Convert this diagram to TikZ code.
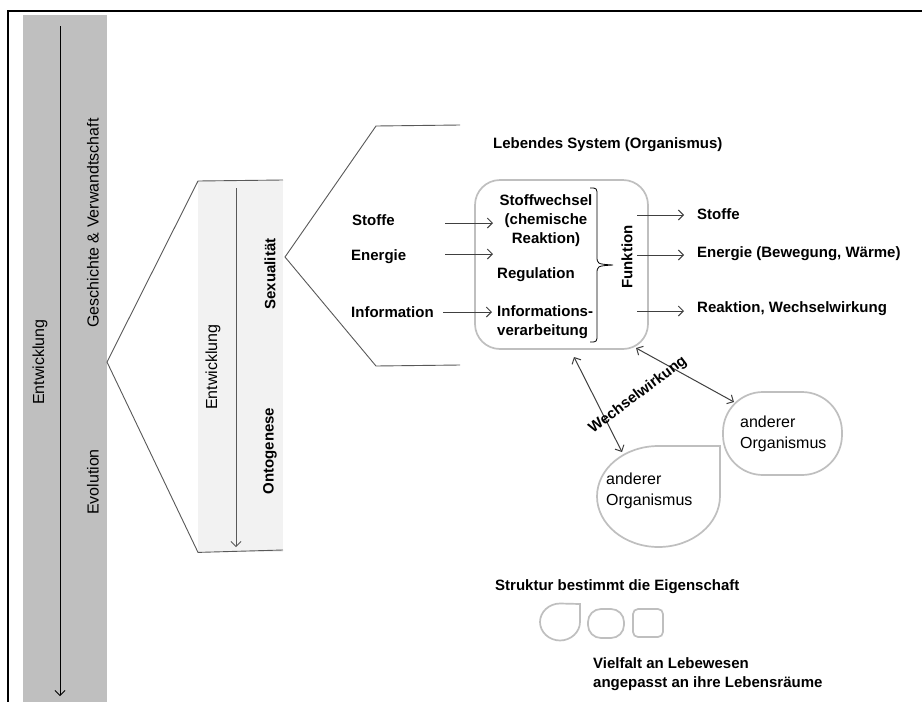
\documentclass[tikz,border=0pt]{standalone}
\usepackage{fontspec}
\setmainfont{Liberation Sans}
\usetikzlibrary{arrows.meta}
\definecolor{bandgray}{HTML}{BFBFBF}
\definecolor{bandlight}{HTML}{F2F2F2}
\definecolor{linegray}{HTML}{595959}
\definecolor{shapegray}{HTML}{BFBFBF}
\definecolor{arrowgray}{HTML}{404040}
\begin{document}
\begin{tikzpicture}[x=1pt, y=-1pt, >={Straight Barb[length=5pt, width=10pt]},
    lbl/.style={font=\bfseries\fontsize{15}{19}\selectfont, inner sep=0pt},
    bandlbl/.style={font=\fontsize{16}{19}\selectfont, inner sep=0pt, rotate=90},
    orglbl/.style={font=\fontsize{16}{21}\selectfont, inner sep=0pt, align=left, anchor=west},
    flow/.style={->, arrowgray, line width=1pt},
    pointer/.style={<->, arrowgray, line width=1pt},
    bracket/.style={linegray, line width=0.9pt},
    outline/.style={draw=shapegray, line width=1.7pt, inner sep=0pt}]

    \useasboundingbox (0,0) rectangle (922,702);
    \fill[white] (0,0) rectangle (922,702);
    \draw[line width=2pt] (8,702) -- (8,11) -- (922,11);

    \node[fill=bandgray, anchor=north west, minimum width=84, minimum height=690, inner sep=0pt] (evoband) at (23,15) {};
    \coordinate (evotop) at (60,26);
    \coordinate (evoend) at (60,696);
    \draw[->, line width=0.8pt] (evotop) -- (evoend);
    \node[bandlbl] (evolbl) at (40,362) {Entwicklung};
    \node[bandlbl] (histlbl) at (93,223) {Geschichte \& Verwandtschaft};
    \node[bandlbl] (evolution) at (93,482) {Evolution};

    \node[fill=bandlight, anchor=north west, minimum width=85, minimum height=371, inner sep=0pt] (ontoband) at (198,181) {};
    \coordinate (apexA) at (107,362);
    \draw[bracket] (283,180) -- (ontoband.north west) -- (apexA) -- (ontoband.south west) -- (283,550);
    \coordinate (ontotop) at (236,188);
    \coordinate (ontoend) at (236,547);
    \draw[->, linegray, line width=0.8pt] (ontotop) -- (ontoend);
    \node[bandlbl] (ontolbl) at (213,367) {Entwicklung};
    \node[lbl, rotate=90] (sexlbl) at (270,274) {Sexualität};
    \node[lbl, rotate=90] (ontogenese) at (270,451) {Ontogenese};

    \coordinate (apexB) at (285,257);
    \draw[bracket] (460,125) -- (376,126) -- (apexB) -- (376,366) -- (460,365);

    \node[lbl, anchor=west] (title) at (493,145) {Lebendes System (Organismus)};

    \node[outline, rounded corners=25, minimum width=173, minimum height=169] (cell) at (561.5,264.5) {};
    \node[lbl, align=center] (meta) at (546,221) {Stoffwechsel\\(chemische\\Reaktion)};
    \node[lbl, anchor=west] (regul) at (497,275) {Regulation};
    \node[lbl, anchor=west, align=left] (infoproc) at (497,322) {Informations-\\verarbeitung};
    \draw[line width=0.8pt] (590,188) .. controls (597,188) .. (597,196) -- (597,256)
        .. controls (597,264) .. (613,265) .. controls (597,266) .. (597,274) -- (597,334)
        .. controls (597,342) .. (590,342);
    \node[lbl, rotate=90] (func) at (627,257) {Funktion};

    \node[lbl, anchor=west] (inA) at (352,220) {Stoffe};
    \node[lbl, anchor=west] (inB) at (351,257) {Energie};
    \node[lbl, anchor=west] (inC) at (351,312) {Information};
    \coordinate (inAs) at (445,223);
    \coordinate (inAe) at (493,223);
    \coordinate (inBs) at (445,254);
    \coordinate (inBe) at (493,254);
    \coordinate (inCs) at (443,312);
    \coordinate (inCe) at (492,312);
    \draw[flow] (inAs) -- (inAe);
    \draw[flow] (inBs) -- (inBe);
    \draw[flow] (inCs) -- (inCe);

    \node[lbl, anchor=west] (outA) at (697,214) {Stoffe};
    \node[lbl, anchor=west] (outB) at (697,254) {Energie (Bewegung, Wärme)};
    \node[lbl, anchor=west] (outC) at (697,309) {Reaktion, Wechselwirkung};
    \coordinate (outAs) at (637,215);
    \coordinate (outAe) at (684,215);
    \coordinate (outBs) at (637,255);
    \coordinate (outBe) at (684,255);
    \coordinate (outCs) at (637,311);
    \coordinate (outCe) at (684,311);
    \draw[flow] (outAs) -- (outAe);
    \draw[flow] (outBs) -- (outBe);
    \draw[flow] (outCs) -- (outCe);

    \draw[outline] (720,446) -- (720,496) .. controls (720,524) and (692.5,547) .. (658.5,547)
        .. controls (624.5,547) and (597,524) .. (597,496.5)
        .. controls (597,468.5) and (624.5,446) .. (658.5,446) -- cycle;
    \node[outline, rounded corners=40, minimum width=119, minimum height=83] (otherB) at (782.5,433.5) {};
    \node[orglbl] (otherAlbl) at (606,491) {anderer\\Organismus};
    \node[orglbl] (otherBlbl) at (740,434) {anderer\\Organismus};
    \coordinate (cellL) at (574,357);
    \coordinate (dropTop) at (622,452);
    \coordinate (cellR) at (636,348);
    \coordinate (ovalTop) at (734,402);
    \draw[pointer] (cellL) -- (dropTop);
    \draw[pointer] (cellR) -- (ovalTop);
    \node[lbl, rotate=37] (interact) at (638,395) {Wechselwirkung};

    \node[lbl, anchor=west] (struct) at (495,587) {Struktur bestimmt die Eigenschaft};
    \draw[outline] (580,604) -- (580,622) .. controls (580,632) and (571,640.5) .. (560,640.5)
        .. controls (549,640.5) and (540,632) .. (540,622)
        .. controls (540,612) and (549,603.5) .. (560,603.5) -- cycle;
    \node[outline, rounded corners=13, minimum width=36, minimum height=29] (smallOval) at (606,623.5) {};
    \node[outline, rounded corners=5, minimum width=30, minimum height=28] (smallBox) at (648,623) {};
    \node[lbl, anchor=west, align=left] (variety) at (593,674) {Vielfalt an Lebewesen\\angepasst an ihre Lebensräume};
\end{tikzpicture}
\end{document}
